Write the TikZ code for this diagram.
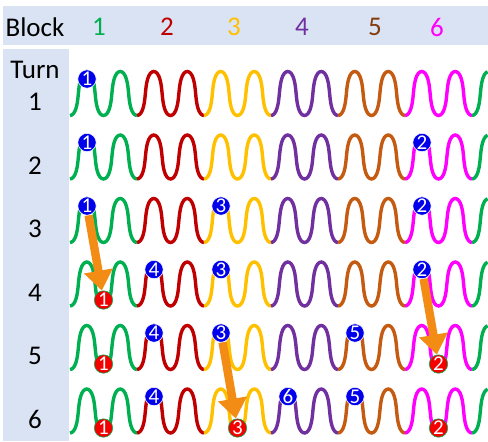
\documentclass[tikz,border=0pt]{standalone}
\usepackage{fontspec}
\setmainfont{Carlito}
\usetikzlibrary{arrows.meta}
\definecolor{band}{RGB}{218,227,243}
\definecolor{blkA}{RGB}{0,176,80}
\definecolor{blkB}{RGB}{192,0,0}
\definecolor{blkC}{RGB}{255,192,0}
\definecolor{blkD}{RGB}{112,48,160}
\definecolor{blkE}{RGB}{197,90,17}
\definecolor{blkEtext}{RGB}{132,60,12}
\definecolor{blkF}{RGB}{255,0,255}
\definecolor{dotblue}{RGB}{0,0,235}
\definecolor{dotred}{RGB}{245,0,0}
\definecolor{arrowfill}{RGB}{242,140,20}
\definecolor{arrowedge}{RGB}{120,130,170}
\tikzset{
  hdr/.style={font=\fontsize{13.5}{15}\selectfont},
  wave/.style={line width=1.7pt},
  bluedot/.style={circle, fill=dotblue, draw=white, line width=0.3pt,
    inner sep=0pt, minimum size=9.2pt, text=white,
    font=\fontsize{10.5}{10.5}\selectfont},
  reddot/.style={bluedot, fill=dotred, draw=blkA},
  bigarrow/.style={draw=arrowfill, line width=4.2pt,
    -{Triangle[length=10pt,width=14pt]},
    preaction={draw=arrowedge, line width=4.8pt,
      -{Triangle[length=10.6pt,width=15.2pt]}}}
}
\begin{document}
\begin{tikzpicture}[x=0.5pt,y=-0.5pt]
  \useasboundingbox (0,0) rectangle (488,441);
  \fill[band] (3,6) rectangle (488,45);
  \fill[band] (3,49) rectangle (69,441);
  \draw
    (35,27) node[hdr] (block){Block}
    (99,27) node[hdr,text=blkA] (h1){1}
    (167,27) node[hdr,text=blkB] (h2){2}
    (234,27) node[hdr,text=blkC] (h3){3}
    (302,27) node[hdr,text=blkD] (h4){4}
    (375,27) node[hdr,text=blkEtext] (h5){5}
    (437,27) node[hdr,text=blkF] (h6){6};
  \draw
    (35,70) node[hdr] (turn){Turn}
    (35,102) node[hdr] (t1){1}
    (35,165.5) node[hdr] (t2){2}
    (35,229) node[hdr] (t3){3}
    (35,292.5) node[hdr] (t4){4}
    (35,356) node[hdr] (t5){5}
    (35,419.5) node[hdr] (t6){6};
  \foreach \r in {0,...,5}{
    \foreach \c [count=\b from 0] in {blkA,blkB,blkC,blkD,blkE,blkF}
      \draw[wave,\c] plot[variable=\t,domain=0:720,samples=61,smooth]
        ({70+67*\b+0.09306*\t+1.6*sin(2*\t)},{93.5+63.5*\r+22*cos(\t)});
    \draw[wave,blkA] plot[variable=\t,domain=0:172,samples=15,smooth]
      ({472+0.09306*\t+1.6*sin(2*\t)},{93.5+63.5*\r+22*cos(\t)});
  }
  \draw
    (87,79) node[bluedot] (b11){1}
    (87,142.5) node[bluedot] (b21){1}
    (422,142.5) node[bluedot] (b26){2}
    (87,206) node[bluedot] (b31){1}
    (221,206) node[bluedot] (b33){3}
    (422,206) node[bluedot] (b36){2}
    (103.5,300) node[reddot] (r41){1}
    (154,269.5) node[bluedot] (b42){4}
    (221,269.5) node[bluedot] (b43){3}
    (422,269.5) node[bluedot] (b46){2}
    (103.5,364) node[reddot] (r51){1}
    (154,333) node[bluedot] (b52){4}
    (221,333) node[bluedot] (b53){3}
    (355,333) node[bluedot] (b55){5}
    (438.5,364) node[reddot] (r56){2}
    (103.5,428) node[reddot] (r61){1}
    (154,396.5) node[bluedot] (b62){4}
    (237.5,428) node[reddot] (r63){3}
    (288,396.5) node[bluedot] (b64){6}
    (355,396.5) node[bluedot] (b65){5}
    (438.5,428) node[reddot] (r66){2};
  \begin{scope}[bigarrow]
    \draw (b31) to (r41);
    \draw (b46) to (r56);
    \draw (b53) to (r63);
  \end{scope}
\end{tikzpicture}
\end{document}
